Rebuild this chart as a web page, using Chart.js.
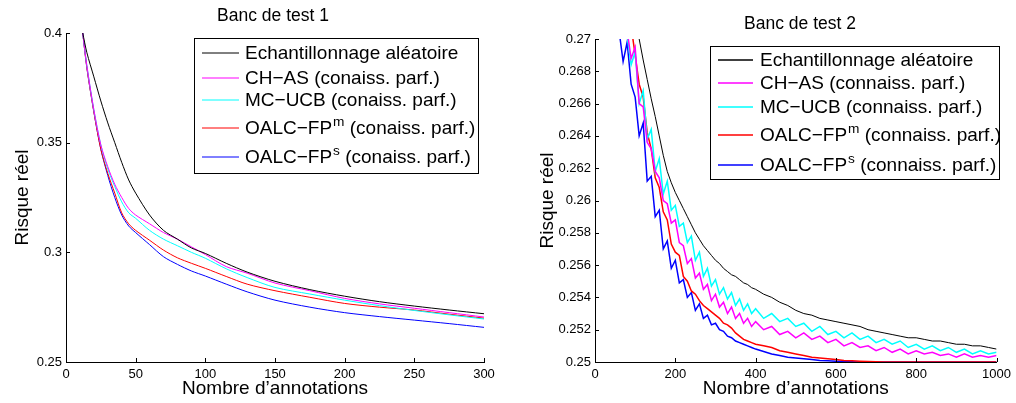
<!DOCTYPE html>
<html>
<head>
<meta charset="utf-8">
<script src="https://cdn.jsdelivr.net/npm/chart.js@4.4.0/dist/chart.umd.min.js"></script>
<style>
  html, body { margin: 0; padding: 0; background: #fff; }
  #wrap { position: relative; width: 1016px; height: 403px; overflow: hidden; }
  .box { position: absolute; top: 0; height: 403px; }
</style>
</head>
<body>
<div id="wrap">
  <div class="box" style="left:0;width:500px"><canvas id="c1"></canvas></div>
  <div class="box" style="left:510px;width:506px"><canvas id="c2"></canvas></div>
</div>
<script>
// ---- Banc de test 1 ----
const xs1 = [12, 15, 20, 25, 30, 35, 40, 45, 50, 60, 70, 80, 90, 100, 115, 130, 150, 175, 200, 225, 250, 275, 300];
const random1 = [0.400, 0.391, 0.380, 0.369, 0.359, 0.350, 0.341, 0.333, 0.327, 0.317, 0.310, 0.306, 0.302, 0.2995, 0.295, 0.291, 0.2868, 0.283, 0.2800, 0.2775, 0.2755, 0.2737, 0.2720];
const chas1 = [0.400, 0.385, 0.365, 0.349, 0.339, 0.331, 0.325, 0.320, 0.317, 0.313, 0.309, 0.306, 0.3025, 0.299, 0.2935, 0.2905, 0.286, 0.2825, 0.279, 0.2765, 0.2745, 0.2725, 0.2705];
const mcucb1 = [0.400, 0.385, 0.365, 0.349, 0.338, 0.330, 0.323, 0.318, 0.3155, 0.310, 0.306, 0.303, 0.300, 0.2973, 0.2925, 0.2885, 0.284, 0.281, 0.2782, 0.2757, 0.2735, 0.2715, 0.2696];
const oalcM1 = [0.400, 0.384, 0.364, 0.347, 0.336, 0.327, 0.318, 0.313, 0.310, 0.3055, 0.301, 0.2975, 0.295, 0.2927, 0.289, 0.2855, 0.2825, 0.2795, 0.2767, 0.275, 0.2737, 0.2718, 0.2700];
const oalcS1 = [0.400, 0.384, 0.364, 0.347, 0.335, 0.325, 0.317, 0.312, 0.309, 0.3035, 0.298, 0.2945, 0.2915, 0.2892, 0.2855, 0.282, 0.2782, 0.275, 0.2725, 0.2707, 0.2691, 0.2675, 0.2658];
const labels1 = ['Echantillonnage aléatoire', 'CH\u2212AS (conaiss. parf.)', 'MC\u2212UCB (conaiss. parf.)', 'OALC\u2212FP^m (conaiss. parf.)', 'OALC\u2212FP^s (conaiss. parf.)'];

// ---- Banc de test 2 ----
const xs2 = [60, 70, 80, 90, 100, 110, 120, 130, 140, 150, 160, 170, 180, 190, 200, 210, 220, 230, 240, 250, 260, 270, 280, 290, 300, 310, 320, 330, 340, 350, 360, 370, 380, 390, 400,
  420, 440, 460, 480, 500, 520, 540, 560, 580, 600, 620, 640, 660, 680, 700, 720, 740, 760, 780, 800, 820, 840, 860, 880, 900, 920, 940, 960, 980, 1000];
const random2 = [null, null, null, null, 0.2713, 0.2700, 0.2687, 0.2675, 0.2663, 0.2652, 0.2640, 0.2628, 0.2618, 0.2611, 0.2605, 0.2600, 0.2595, 0.2590, 0.2585, 0.2580, 0.2576, 0.2572, 0.2569, 0.2566, 0.2563, 0.2561, 0.2558, 0.2556, 0.2554, 0.2553, 0.2551, 0.2549, 0.2548, 0.2546, 0.2545,
  0.2542, 0.2540, 0.2537, 0.2535, 0.2532, 0.2530, 0.2529, 0.2527, 0.2526, 0.2525, 0.2524, 0.2523, 0.2522, 0.2520, 0.2519, 0.2518, 0.2517, 0.2516, 0.2515, 0.2515, 0.2514, 0.2513, 0.2513, 0.2512, 0.2511, 0.2511, 0.2510, 0.2510, 0.2509, 0.2508];
const chas2 = [null, null, 0.2705, 0.2688, 0.2695, 0.2660, 0.2658, 0.2636, 0.2632, 0.2618, 0.2614, 0.2600, 0.2598, 0.2586, 0.2588, 0.2574, 0.2572, 0.2561, 0.2564, 0.2552, 0.2555, 0.2545, 0.2548, 0.2538, 0.2542, 0.2534, 0.2537, 0.2530, 0.2534, 0.2527, 0.2530, 0.2524, 0.2527, 0.2522, 0.2525,
  0.2520, 0.2522, 0.2517, 0.2519, 0.2515, 0.2518, 0.2514, 0.2516, 0.2512, 0.2514, 0.2510, 0.2512, 0.2509, 0.2510, 0.2507, 0.2509, 0.2506, 0.2508, 0.2505, 0.2507, 0.2505, 0.2506, 0.2504, 0.2505, 0.2503, 0.2505, 0.2503, 0.2504, 0.2503, 0.2504];
const mcucb2 = [null, null, 0.2702, 0.2684, 0.2692, 0.2660, 0.2668, 0.2638, 0.2644, 0.2618, 0.2626, 0.2604, 0.2612, 0.2594, 0.2597, 0.2584, 0.2586, 0.2574, 0.2578, 0.2563, 0.2568, 0.2553, 0.2558, 0.2547, 0.2551, 0.2542, 0.2546, 0.2539, 0.2543, 0.2535, 0.2539, 0.2532, 0.2536, 0.2530, 0.2533,
  0.2527, 0.2530, 0.2525, 0.2527, 0.2522, 0.2524, 0.2519, 0.2522, 0.2517, 0.2519, 0.2515, 0.2518, 0.2514, 0.2516, 0.2512, 0.2514, 0.2511, 0.2513, 0.2509, 0.2511, 0.2508, 0.2510, 0.2507, 0.2509, 0.2506, 0.2508, 0.2505, 0.2507, 0.2505, 0.2506];
const oalcM2 = [null, null, null, 0.2708, 0.2690, 0.2672, 0.2664, 0.2642, 0.2632, 0.2614, 0.2608, 0.2593, 0.2588, 0.2573, 0.2568, 0.2566, 0.2553, 0.2550, 0.2544, 0.2542, 0.2538, 0.2535, 0.2533, 0.2531, 0.2529, 0.2527, 0.2524, 0.2523, 0.2521, 0.2518, 0.2516, 0.2514, 0.2513, 0.2512, 0.2511,
  0.2510, 0.2509, 0.2507, 0.2506, 0.2505, 0.2504, 0.2503, 0.25025, 0.2502, 0.25015, 0.2501, 0.25008, 0.25005, 0.25003, 0.25002, 0.2500, 0.2500, 0.2500, 0.2500, 0.2500, 0.2500, 0.2500, 0.2500, 0.2500, 0.2500, 0.2500, 0.2500, 0.2500, 0.2500, 0.2500];
const oalcS2 = [0.2705, 0.2686, 0.2698, 0.2672, 0.2664, 0.2640, 0.2648, 0.2612, 0.2615, 0.2590, 0.2594, 0.2570, 0.2575, 0.2558, 0.2563, 0.2549, 0.2551, 0.2540, 0.2543, 0.2532, 0.2536, 0.2527, 0.2529, 0.2523, 0.2524, 0.2520, 0.2519, 0.2516, 0.2515, 0.2513, 0.2512, 0.2511, 0.2510, 0.2509, 0.2508,
  0.25065, 0.2505, 0.2504, 0.2503, 0.25025, 0.2502, 0.25015, 0.2501, 0.25008, 0.25005, 0.25003, 0.25002, 0.2500, 0.2500, 0.2500, 0.2500, 0.2500, 0.2500, 0.2500, 0.2500, 0.2500, 0.2500, 0.2500, 0.2500, 0.2500, 0.2500, 0.2500, 0.2500, 0.2500, 0.2500];
const labels2 = ['Echantillonnage aléatoire', 'CH\u2212AS (connaiss. parf.)', 'MC\u2212UCB (connaiss. parf.)', 'OALC\u2212FP^m (connaiss. parf.)', 'OALC\u2212FP^s (connaiss. parf.)'];

const colors = ['#000000', '#ff00ff', '#00ffff', '#ff0000', '#0000ff'];
const FONT = '"Liberation Sans", Arial, sans-serif';

function pts(xs, ys) {
    return xs.map((x, i) => ({ x: x, y: ys[i] }));
}

// inward tick marks, titles and the boxed legend (MATLAB look)
const matlabPlugin = {
    id: 'matlab',
    afterDraw(chart, args, opts) {
        const ctx = chart.ctx;
        const area = chart.chartArea;
        const xs = chart.scales.x, ys = chart.scales.y;
        ctx.save();
        ctx.strokeStyle = '#000';
        ctx.lineWidth = 1;
        ctx.beginPath();
        xs.ticks.forEach(t => {
            const p = Math.round(xs.getPixelForValue(t.value)) + 0.5;
            ctx.moveTo(p, area.bottom);
            ctx.lineTo(p, area.bottom - 4);
        });
        ys.ticks.forEach(t => {
            const p = Math.round(ys.getPixelForValue(t.value)) + 0.5;
            ctx.moveTo(area.left, p);
            ctx.lineTo(area.left + 4, p);
        });
        ctx.stroke();

        // title
        ctx.fillStyle = '#000';
        ctx.font = '17.5px ' + FONT;
        ctx.textAlign = 'center';
        ctx.textBaseline = 'middle';
        ctx.fillText(opts.title, opts.titleX, opts.titleY);

        // legend
        const lg = opts.legend;
        ctx.fillStyle = '#fff';
        ctx.fillRect(lg.x, lg.y, lg.w, lg.h);
        ctx.strokeStyle = '#000';
        ctx.lineWidth = 1;
        ctx.strokeRect(lg.x + 0.5, lg.y + 0.5, lg.w, lg.h);
        chart.data.datasets.forEach((ds, i) => {
            const y = lg.rows[i];
            ctx.beginPath();
            ctx.strokeStyle = colors[i];
            ctx.lineWidth = lg.lw;
            ctx.moveTo(lg.x1, y);
            ctx.lineTo(lg.x2, y);
            ctx.stroke();
            ctx.fillStyle = '#000';
            ctx.textAlign = 'left';
            ctx.textBaseline = 'middle';
            const parts = ds.label.split('^');
            ctx.font = lg.size + 'px ' + FONT;
            let tx = lg.tx;
            ctx.fillText(parts[0], tx, y + 1);
            tx += ctx.measureText(parts[0]).width;
            if (parts.length > 1) {
                const sup = parts[1].charAt(0);
                const rest = parts[1].slice(1);
                ctx.font = (lg.size * 0.72) + 'px ' + FONT;
                ctx.fillText(sup, tx + 1, y - 6);
                tx += ctx.measureText(sup).width + 1;
                ctx.font = lg.size + 'px ' + FONT;
                ctx.fillText(rest, tx, y + 1);
            }
        });
        ctx.restore();
    }
};

function makeChart(id, xs, series, labels, cfg) {
    const datasets = series.map((s, i) => ({
        label: labels[i],
        data: pts(xs, s),
        borderColor: colors[i],
        borderWidth: i === 0 ? 1 : cfg.lineWidth,
        pointRadius: 0,
        tension: cfg.tension,
        spanGaps: false
    }));
    return new Chart(document.getElementById(id), {
        type: 'line',
        data: { datasets: datasets },
        options: {
            responsive: true,
            maintainAspectRatio: false,
            animation: false,
            layout: { padding: { top: cfg.top, right: cfg.right, bottom: 0, left: 0 } },
            plugins: {
                legend: { display: false },
                tooltip: { enabled: false },
                matlab: cfg.matlab
            },
            scales: {
                x: {
                    type: 'linear',
                    min: cfg.xMin, max: cfg.xMax,
                    grid: { display: false, drawTicks: false },
                    border: { display: true, color: '#000', width: 1 },
                    ticks: { stepSize: cfg.xStep, color: '#000', font: { family: FONT, size: 13 }, padding: 5, maxRotation: 0, callback: v => String(v) },
                    title: { display: true, text: 'Nombre d\u2019annotations', color: '#000', font: { family: FONT, size: 19 }, padding: { top: 0, bottom: 3 } },
                    afterFit: s => { s.height = 403 - cfg.bottom; }
                },
                y: {
                    min: cfg.yMin, max: cfg.yMax,
                    grid: { display: false, drawTicks: false },
                    border: { display: true, color: '#000', width: 1 },
                    ticks: {
                        stepSize: cfg.yStep, color: '#000', font: { family: FONT, size: 13 }, padding: 4,
                        callback: v => String(parseFloat(v.toFixed(4)))
                    },
                    title: { display: true, text: 'Risque réel', color: '#000', font: { family: FONT, size: 19 }, padding: { top: cfg.yTitlePad, bottom: 0 } },
                    afterFit: s => { s.width = cfg.left; }
                }
            }
        },
        plugins: [matlabPlugin]
    });
}

makeChart('c1', xs1, [random1, chas1, mcucb1, oalcM1, oalcS1], labels1, {
    lineWidth: 1, tension: 0.3, yTitlePad: 11,
    top: 33, right: 16, bottom: 362, left: 66,
    xMin: 0, xMax: 300, xStep: 50, yMin: 0.25, yMax: 0.4, yStep: 0.05,
    matlab: {
        title: 'Banc de test 1', titleX: 273, titleY: 16,
        legend: { x: 194, y: 38, w: 284, h: 135, x1: 202, x2: 239, tx: 245, size: 19, lw: 1, rows: [53, 78, 100, 128, 157] }
    }
});

makeChart('c2', xs2, [random2, chas2, mcucb2, oalcM2, oalcS2], labels2, {
    lineWidth: 1.5, tension: 0, yTitlePad: 26,
    top: 39, right: 12, bottom: 362, left: 85,
    xMin: 0, xMax: 1000, xStep: 200, yMin: 0.25, yMax: 0.27, yStep: 0.002,
    matlab: {
        title: 'Banc de test 2', titleX: 290, titleY: 24,
        legend: { x: 200, y: 46, w: 289, h: 133, x1: 208, x2: 243, tx: 250, size: 19, lw: 1.5, rows: [60, 83, 107, 135, 165] }
    }
});
</script>
</body>
</html>
